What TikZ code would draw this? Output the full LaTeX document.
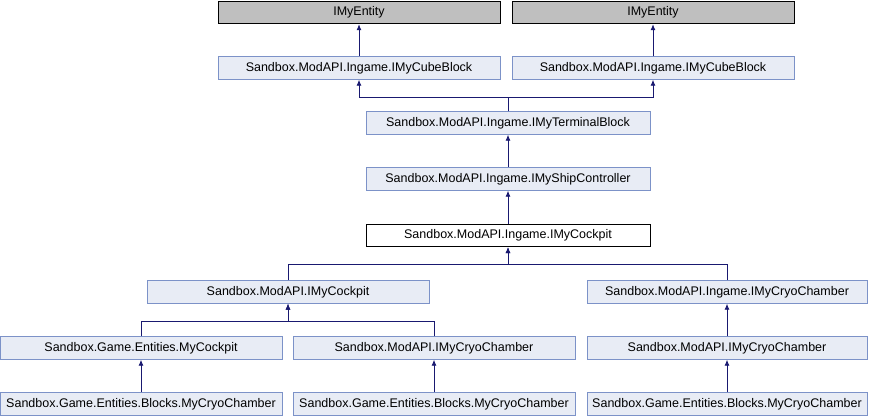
\documentclass[tikz,border=0pt]{standalone}
\usepackage{fontspec}
\setmainfont{Liberation Sans}
\usetikzlibrary{arrows.meta}
\definecolor{nodefill}{RGB}{232,236,245}
\definecolor{nodeline}{RGB}{124,146,200}
\definecolor{topfill}{RGB}{191,191,191}
\definecolor{edgecol}{RGB}{25,25,112}
\tikzset{
  cls/.style={draw=nodeline, fill=nodefill, line width=0.9pt, minimum width=282pt, minimum height=22.5pt, inner sep=0pt, font=\fontsize{12.5}{14}\selectfont},
  basecls/.style={cls, draw=black, fill=topfill},
  curcls/.style={cls, draw=black, fill=white},
  edge/.style={draw=edgecol, line width=0.9pt, -{Latex[length=6pt,width=5pt]}}
}
\begin{document}
\begin{tikzpicture}[x=1pt,y=-1pt]
\useasboundingbox (0,0) rectangle (869,416);
\node[basecls] (e1) at (359,12.5) {IMyEntity};
\node[basecls] (e2) at (653,12.5) {IMyEntity};
\node[cls] (c1) at (359,68) {Sandbox.ModAPI.Ingame.IMyCubeBlock};
\node[cls] (c2) at (653,68) {Sandbox.ModAPI.Ingame.IMyCubeBlock};
\node[cls, minimum width=284pt] (t) at (508,123) {Sandbox.ModAPI.Ingame.IMyTerminalBlock};
\node[cls, minimum width=284pt] (s) at (508,179) {Sandbox.ModAPI.Ingame.IMyShipController};
\node[curcls, minimum width=284pt] (k) at (508,235.5) {Sandbox.ModAPI.Ingame.IMyCockpit};
\node[cls] (mk) at (288,292) {Sandbox.ModAPI.IMyCockpit};
\node[cls, minimum width=280pt] (cc) at (727,292) {Sandbox.ModAPI.Ingame.IMyCryoChamber};
\node[cls] (gm) at (141,348) {Sandbox.Game.Entities.MyCockpit};
\node[cls] (mc) at (434,348) {Sandbox.ModAPI.IMyCryoChamber};
\node[cls, minimum width=280pt] (mc2) at (727,348) {Sandbox.ModAPI.IMyCryoChamber};
\node[cls] (b1) at (141,404) {Sandbox.Game.Entities.Blocks.MyCryoChamber};
\node[cls] (b2) at (434,404) {Sandbox.Game.Entities.Blocks.MyCryoChamber};
\node[cls, minimum width=280pt] (b3) at (727,404) {Sandbox.Game.Entities.Blocks.MyCryoChamber};
\coordinate (j1) at (508,97);
\coordinate (j2) at (508,264);
\coordinate (j3) at (288,321);
\draw[edge] (c1.north) -- (e1.south);
\draw[edge] (c2.north) -- (e2.south);
\draw[edge] (t.north) -- (j1) -| (c1.south);
\draw[edge] (t.north) -- (j1) -| (c2.south);
\draw[edge] (s.north) -- (t.south);
\draw[edge] (k.north) -- (s.south);
\draw[edge] (mk.north) |- (j2) -- (k.south);
\draw[edge] (cc.north) |- (j2) -- (k.south);
\draw[edge] (gm.north) |- (j3) -- (mk.south);
\draw[edge] (mc.north) |- (j3) -- (mk.south);
\draw[edge] (mc2.north) -- (cc.south);
\draw[edge] (b1.north) -- (gm.south);
\draw[edge] (b2.north) -- (mc.south);
\draw[edge] (b3.north) -- (mc2.south);
\end{tikzpicture}
\end{document}
